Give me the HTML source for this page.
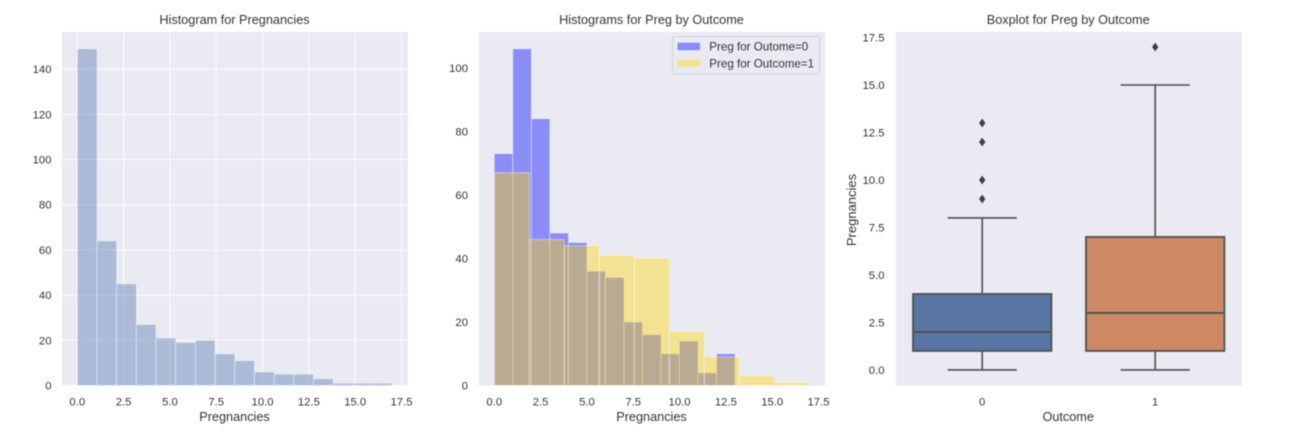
<!DOCTYPE html>
<html lang="en">
<head>
<meta charset="utf-8">
<title>Pregnancies charts</title>
<style>
  html, body { margin: 0; padding: 0; background: #fff; width: 1298px; height: 434px; overflow: hidden; }
  svg { display: block; filter: blur(0.6px); font-family: "Liberation Sans", Arial, sans-serif; }
  text { fill: #333333; }
</style>
</head>
<body>
<svg id="chart" xmlns="http://www.w3.org/2000/svg" width="1298" height="434" viewBox="0 0 1298 434"></svg>
<script>
// Panel 1 data
const overallCounts = [149, 64, 45, 27, 21, 19, 20, 14, 11, 6, 5, 5, 3, 1, 1, 1];
const overallRange = [0, 17];
// Panel 2 data
const outcome0Counts = [73, 106, 84, 48, 45, 36, 34, 20, 16, 10, 14, 4, 10];
const outcome0Range = [0, 13];
const outcome1Counts = [67, 46, 44, 41, 40, 17, 9, 3, 1];
const outcome1Range = [0, 17];
// Panel 3 data
const boxCategories = ['0', '1'];
const boxLow = [0, 0];
const boxQ1 = [1, 1];
const boxMedian = [2, 3];
const boxQ3 = [4, 7];
const boxHigh = [8, 15];
const boxFliers = [[9, 10, 12, 13], [17]];
// Tick labels
const pregTicks = [0, 2.5, 5, 7.5, 10, 12.5, 15, 17.5];
const countTicks1 = [0, 20, 40, 60, 80, 100, 120, 140];
const countTicks2 = [0, 20, 40, 60, 80, 100];
const legendLabels = ['Preg for Outome=0', 'Preg for Outcome=1'];

const svg = document.getElementById('chart');
const NS = 'http://www.w3.org/2000/svg';
const TOP = 32, BOTTOM = 385.5, PANEL_W = 346;
const BG = '#eaeaf2';

function mk(tag, attrs, parent, txt) {
  const e = document.createElementNS(NS, tag);
  for (const k in attrs) e.setAttribute(k, attrs[k]);
  if (txt !== undefined) e.textContent = txt;
  (parent || svg).appendChild(e);
  return e;
}
function linear(d0, d1, r0, r1) {
  return v => r0 + (v - d0) / (d1 - d0) * (r1 - r0);
}
function panel(name, left, title) {
  const g = mk('g', {});
  
  
  const bg = mk('rect', { x: left, y: TOP, width: PANEL_W, height: BOTTOM - TOP, fill: BG }, g);
  
  
  const t = mk('text', { x: left + PANEL_W / 2 - 0.5, y: 24, 'text-anchor': 'middle', 'font-size': 12.7 }, g, title);
  
  
  return g;
}
function xTitle(g, left, label) {
  const t = mk('text', { x: left + PANEL_W / 2 - 0.5, y: 421, 'text-anchor': 'middle', 'font-size': 12.7 }, g, label);
  
  
}
function xTickLabels(g, ticks, xs, fmt) {
  ticks.forEach(v => {
    const t = mk('text', { x: xs(v), y: 405.5, 'text-anchor': 'middle', 'font-size': 11.3 }, g, fmt(v));
    
    
  });
}
function yTickLabels(g, ticks, ys, right, fmt) {
  ticks.forEach(v => {
    const t = mk('text', { x: right, y: ys(v) + 4, 'text-anchor': 'end', 'font-size': 11.3 }, g, fmt(v));
    
    
  });
}
function bars(g, counts, range, xs, ys, color, name) {
  const w = (range[1] - range[0]) / counts.length;
  counts.forEach((c, i) => {
    const x0 = xs(range[0] + i * w), x1 = xs(range[0] + (i + 1) * w), y = ys(c);
    const r = mk('rect', { x: x0, y: y, width: x1 - x0, height: ys(0) - y, fill: color, 'fill-opacity': 0.4, stroke: '#fff', 'stroke-opacity': 0.4, 'stroke-width': 1 }, g);
    
    
  });
}
const fmt1 = v => v.toFixed(1);
const fmt0 = v => String(v);

/* Panel 1 */
(function () {
  const left = 62;
  const g = panel('histogram-pregnancies', left, 'Histogram for Pregnancies');
  const xs = linear(-0.825, 17.85, left, left + PANEL_W);
  const maxCount = Math.max(...overallCounts);
  const ys = linear(0, maxCount * 1.05, BOTTOM, TOP);
  pregTicks.forEach(v => {
    const l = mk('line', { x1: xs(v), x2: xs(v), y1: TOP, y2: BOTTOM, stroke: '#fff', 'stroke-width': 1 }, g);
    
    
  });
  countTicks1.forEach(v => {
    const l = mk('line', { x1: left, x2: left + PANEL_W, y1: ys(v), y2: ys(v), stroke: '#fff', 'stroke-width': 1 }, g);
    
    
  });
  bars(g, overallCounts, overallRange, xs, ys, '#4c72b0', 'pregnancies-bar');
  xTickLabels(g, pregTicks, xs, fmt1);
  yTickLabels(g, countTicks1, ys, 51.5, fmt0);
  xTitle(g, left, 'Pregnancies');
})();

/* Panel 2 */
(function () {
  const left = 479;
  const g = panel('histograms-by-outcome', left, 'Histograms for Preg by Outcome');
  const xs = linear(-0.825, 17.85, left, left + PANEL_W);
  const maxCount = Math.max(...outcome0Counts, ...outcome1Counts);
  const ys = linear(0, maxCount * 1.05, BOTTOM, TOP);
  bars(g, outcome0Counts, outcome0Range, xs, ys, '#0000ff', 'outcome-0-bar');
  bars(g, outcome1Counts, outcome1Range, xs, ys, '#ffd700', 'outcome-1-bar');
  xTickLabels(g, pregTicks, xs, fmt1);
  yTickLabels(g, countTicks2, ys, 468, fmt0);
  xTitle(g, left, 'Pregnancies');

  const lg = mk('g', {}, g);
  
  
  const box = mk('rect', { x: 672.5, y: 36.5, width: 147, height: 37.5, rx: 2, fill: BG, 'fill-opacity': 0.8, stroke: '#cccccc', 'stroke-width': 0.8 }, lg);
  
  
  const legendColors = ['#0000ff', '#ffd700'];
  legendLabels.forEach((label, i) => {
    const y = 42.7 + i * 16.7;
    const sw = mk('rect', { x: 677.5, y: y, width: 22.5, height: 7.5, fill: legendColors[i], 'fill-opacity': 0.4 }, lg);
    
    
    const t = mk('text', { x: 709.3, y: y + 8, 'font-size': 11.6 }, lg, label);
    
    
  });
})();

/* Panel 3 */
(function () {
  const left = 895.7;
  const g = panel('boxplot-by-outcome', left, 'Boxplot for Preg by Outcome');
  const xs = linear(-0.5, 1.5, left, left + PANEL_W);
  const ys = linear(-0.82, 17.79, BOTTOM, TOP);
  const fills = ['#5875a4', '#cc8963'];
  const stroke = '#505050';
  boxCategories.forEach((cat, i) => {
    const cg = mk('g', {}, g);
    
    
    const cx = xs(i);
    const seg = (x1, y1, x2, y2, name, w) => {
      const l = mk('line', { x1: x1, y1: y1, x2: x2, y2: y2, stroke: stroke, 'stroke-width': w }, cg);
      
      
    };
    seg(cx, ys(boxLow[i]), cx, ys(boxQ1[i]), 'lower-whisker', 1.6);
    seg(cx, ys(boxQ3[i]), cx, ys(boxHigh[i]), 'upper-whisker', 1.6);
    seg(xs(i - 0.2), ys(boxLow[i]), xs(i + 0.2), ys(boxLow[i]), 'lower-cap', 1.6);
    seg(xs(i - 0.2), ys(boxHigh[i]), xs(i + 0.2), ys(boxHigh[i]), 'upper-cap', 1.6);
    const r = mk('rect', { x: xs(i - 0.4), y: ys(boxQ3[i]), width: xs(i + 0.4) - xs(i - 0.4), height: ys(boxQ1[i]) - ys(boxQ3[i]), fill: fills[i], stroke: stroke, 'stroke-width': 1.8 }, cg);
    
    
    seg(xs(i - 0.4), ys(boxMedian[i]), xs(i + 0.4), ys(boxMedian[i]), 'median-line', 1.8);
    boxFliers[i].forEach(v => {
      const y = ys(v);
      const d = mk('polygon', { points: `${cx - 3.2},${y} ${cx},${y - 4.4} ${cx + 3.2},${y} ${cx},${y + 4.4}`, fill: '#404040' }, cg);
      
      
    });
    const t = mk('text', { x: cx, y: 405.5, 'text-anchor': 'middle', 'font-size': 11.3 }, g, cat);
    
    
  });
  yTickLabels(g, pregTicks, ys, 884.5, fmt1);
  xTitle(g, left, 'Outcome');
  const yt = mk('text', { x: 0, y: 0, 'text-anchor': 'middle', 'font-size': 13, transform: 'translate(856,210) rotate(-90)' }, g, 'Pregnancies');
  
  
})();
</script>
</body>
</html>
